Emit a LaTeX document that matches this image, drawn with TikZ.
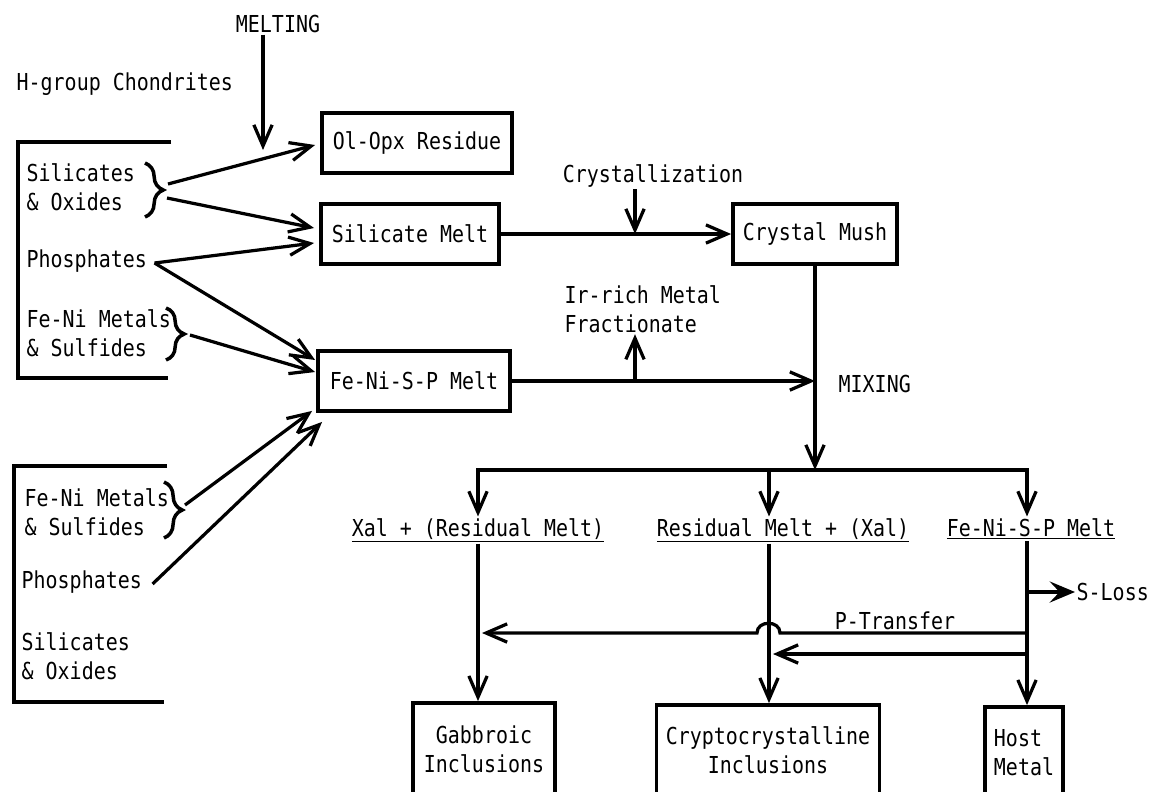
\documentclass[tikz,border=0pt]{standalone}
\usepackage{fontspec}
\setmainfont[FakeStretch=0.855]{DejaVu Sans Mono}
\usepackage{tikz}
\usetikzlibrary{positioning, arrows.meta, calc, decorations.pathreplacing}

\begin{document}
\begin{tikzpicture}[x=0.025cm, y=-0.025cm,
    font=\fontsize{16.6}{20.5}\selectfont,
    box/.style={rectangle, draw=black, line width=2.7pt, minimum height=1.5cm, inner sep=2pt},
    lbl/.style={inner sep=1pt},
    link/.style={line width=2.3pt},
    flow/.style={line width=2.3pt, -{Straight Barb[length=15pt, width=13pt]}},
    brc/.style={line width=2.5pt, decorate, decoration={brace, amplitude=13pt}},
    loss/.style={line width=2.6pt, -{Stealth[length=18pt, width=15pt, inset=7pt]}}
]
\clip (0,0) rectangle (1157,791);

% H-group chondrites (upper source group)
\node[lbl, anchor=west] (hgroup) at (15,84) {H-group Chondrites};
\draw[link] (171,142) -- (18,142) -- (18,378) -- (168,378);
\node[lbl, anchor=west, align=left] (usox) at (25,187) {Silicates\\\& Oxides};
\node[lbl, anchor=west] (uphos) at (25,261) {Phosphates};
\node[lbl, anchor=west, align=left] (ufeni) at (25,333) {Fe-Ni Metals\\\& Sulfides};
\draw[brc] (145,163) -- (145,217);
\draw[brc] (166,308) -- (166,360);
\coordinate (usoxA) at (168,184);
\coordinate (usoxB) at (167,198);
\coordinate (ufeniT) at (190,335);

% lower source group
\draw[link] (167,466) -- (14,466) -- (14,702) -- (164,702);
\node[lbl, anchor=west, align=left] (lfeni) at (23,512) {Fe-Ni Metals\\\& Sulfides};
\node[lbl, anchor=west] (lphos) at (20,582) {Phosphates};
\node[lbl, anchor=west, align=left] (lsox) at (20,656) {Silicates\\\& Oxides};
\draw[brc] (164,482) -- (164,538);
\coordinate (lfeniT) at (185,505);

% melting
\node[lbl] (melting) at (278,24) {MELTING};
\coordinate (meltend) at (263,150);
\draw[flow] (melting.south -| meltend) -- (meltend);

% melting products
\node[box, minimum width=4.75cm] (ores) at (417,143) {Ol-Opx Residue};
\node[box, minimum width=4.45cm] (smelt) at (410,234) {Silicate Melt};
\node[box, minimum width=4.8cm] (fmelt) at (414,381) {Fe-Ni-S-P Melt};
\node[box, minimum width=4.1cm] (mush) at (815,234) {Crystal Mush};

% arrows from sources
\draw[flow] (usoxA) -- ($(ores.west)+(-5,2)$);
\draw[flow] (usoxB) -- ($(smelt.west)+(-5,-6)$);
\draw[flow] ($(uphos.east)+(6,2)$) -- ($(smelt.west)+(-5,9)$);
\draw[flow] ($(uphos.east)+(6,2)$) -- ($(fmelt.west)+(-1,-21)$);
\draw[flow] (ufeniT) -- ($(fmelt.west)+(-1,-9)$);
\draw[flow] (lfeniT) -- ($(fmelt.south west)+(-4,-2)$);
\draw[flow] ($(lphos.east)+(9,2)$) -- ($(fmelt.south west)+(6,9)$);

% crystallization and fractionation
\node[lbl] (cryst) at (653,176) {Crystallization};
\coordinate (cjoin) at (635,234);
\draw[flow] (smelt.east) -- (mush.west);
\draw[flow] (cryst.south -| cjoin) -- (cjoin);
\node[lbl, anchor=west, align=left] (irich) at (563,309) {Ir-rich Metal\\Fractionate};
\draw[flow] (fmelt.east) -- (fmelt.east -| mush.south);
\draw[flow] (fmelt.east -| cjoin) -- (irich.south -| cjoin);

% mixing
\node[lbl, anchor=west] (mixing) at (837,384) {MIXING};
\coordinate (split) at (815,470);
\draw[flow] (mush.south) -- (split);
\coordinate (bl) at (478,470);
\coordinate (bm) at (769,470);
\coordinate (br) at (1027,470);
\node[lbl, anchor=base] (lxal) at (478,536) {\underline{Xal + (Residual Melt)}};
\node[lbl, anchor=base] (lres) at (783,536) {\underline{Residual Melt + (Xal)}};
\node[lbl, anchor=base] (lfe) at (1031,536) {\underline{Fe-Ni-S-P Melt}};
\draw[flow] (split) -| (bl |- lxal.north);
\draw[flow] (split) -| (br |- lfe.north);
\draw[flow] (bm) -- (bm |- lres.north);

% final products
\node[box, align=center, minimum width=3.55cm, minimum height=2.3cm] (gab) at (484,749) {Gabbroic\\Inclusions};
\node[box, align=center, minimum width=5.575cm, minimum height=2.25cm] (cryp) at (768,750) {Cryptocrystalline\\Inclusions};
\node[box, align=left, minimum width=1.95cm, minimum height=2.3cm] (host) at (1024,753) {Host\\Metal};
\draw[flow] (bl |- lxal.south) -- (bl |- gab.north);
\draw[flow] (bm |- lres.south) -- (bm |- cryp.north);
\draw[flow] (br |- lfe.south) -- (br |- host.north);

% S-loss and P-transfer
\node[lbl, anchor=west] (sloss) at (1075,592) {S-Loss};
\draw[loss] (br |- sloss.west) -- (sloss.west);
\node[lbl] (ptrans) at (895,621) {P-Transfer};
\coordinate (pt) at (1027,633);
\draw[flow] (pt) -- ($(bm |- pt)+(11,0)$) .. controls +(0,-13) and +(0,-13) .. ($(bm |- pt)+(-12,0)$) -- ($(bl |- pt)+(4,0)$);
\coordinate (qt) at (1027,654);
\draw[flow] (qt) -- ($(bm |- qt)+(4,0)$);

\end{tikzpicture}
\end{document}
